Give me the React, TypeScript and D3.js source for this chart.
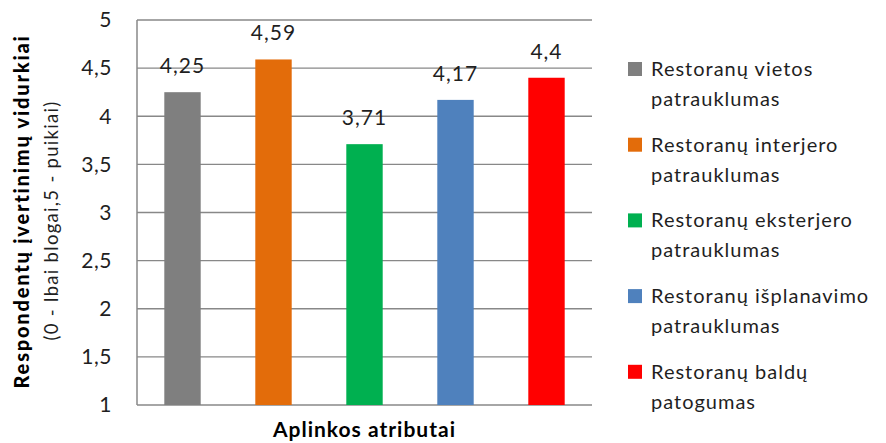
import React from "react";
import * as d3 from "d3";

const categories = ["vietos", "interjero", "eksterjero", "isplanavimo", "baldu"];
const values = [4.25, 4.59, 3.71, 4.17, 4.4];
const valueLabels = ["4,25", "4,59", "3,71", "4,17", "4,4"];
const barColors = ["#7f7f7f", "#e36c0a", "#00b050", "#4f81bd", "#ff0000"];
const legendLines = [
  ["Restoranų vietos", "patrauklumas"],
  ["Restoranų interjero", "patrauklumas"],
  ["Restoranų eksterjero", "patrauklumas"],
  ["Restoranų išplanavimo", "patrauklumas"],
  ["Restoranų baldų", "patogumas"],
];
const yTicks = [1, 1.5, 2, 2.5, 3, 3.5, 4, 4.5, 5];

const FONT = "Lato, 'Open Sans', sans-serif";
const TEXT = "#1f1f1f";

export default function App() {
  const width = 886;
  const height = 443;
  const margin = { top: 20, right: 294, bottom: 38, left: 137 };
  const plotRight = width - margin.right;
  const plotBottom = height - margin.bottom;

  const x = d3
    .scaleBand<string>()
    .domain(categories)
    .range([margin.left, plotRight])
    .paddingInner(0.6)
    .paddingOuter(0.3);

  const y = d3.scaleLinear().domain([1, 5]).range([plotBottom, margin.top]);

  const fmt = (v: number) => String(v).replace(".", ",");
  const midY = (margin.top + plotBottom) / 2;

  return (
    <svg
      width={width}
      height={height}
      style={{ position: "absolute", left: 0, top: 0, background: "#fff" }}
      fontFamily={FONT}
    >
      {/* gridlines */}
      {yTicks.map((t) => (
        <line
          key={t}
          x1={margin.left}
          x2={plotRight}
          y1={y(t)}
          y2={y(t)}
          stroke="#888"
          strokeWidth={1.3}
        />
      ))}
      {/* y axis line */}
      <line
        x1={margin.left}
        x2={margin.left}
        y1={margin.top}
        y2={plotBottom}
        stroke="#888"
        strokeWidth={1.5}
      />
      {yTicks.map((t) => (
        <text
          key={"l" + t}
          x={margin.left - 25}
          y={y(t)}
          dy="0.35em"
          textAnchor="end"
          fontSize={21}
          letterSpacing={0.5}
          fill={TEXT}
        >
          {fmt(t)}
        </text>
      ))}

      {/* bars */}
      {categories.map((c, i) => (
        <g key={c}>
          <rect
            x={x(c)}
            y={y(values[i])}
            width={x.bandwidth()}
            height={plotBottom - y(values[i])}
            fill={barColors[i]}
          />
          <text
            x={(x(c) as number) + x.bandwidth() / 2}
            y={y(values[i]) - 19}
            textAnchor="middle"
            fontSize={21}
            letterSpacing={1}
            fill={TEXT}
          >
            {valueLabels[i]}
          </text>
        </g>
      ))}

      {/* axis titles */}
      <text
        transform={`translate(29,${midY - 1}) rotate(-90)`}
        textAnchor="middle"
        fontSize={20}
        fontWeight="900"
        letterSpacing={1.8}
        fill="#000"
      >
        Respondentų įvertinimų vidurkiai
      </text>
      <text
        transform={`translate(58,${midY + 8}) rotate(-90)`}
        textAnchor="middle"
        fontSize={18.5}
        letterSpacing={1.3}
        fill={TEXT}
      >
        (0 - lbai blogai,5 - puikiai)
      </text>
      <text
        x={(margin.left + plotRight) / 2}
        y={437}
        textAnchor="middle"
        fontSize={21}
        fontWeight="bold"
        letterSpacing={1}
        fill="#000"
      >
        Aplinkos atributai
      </text>

      {/* legend */}
      {legendLines.map((lines, i) => {
        const top = 62 + i * 75.7;
        return (
          <g key={"lg" + i}>
            <rect x={628} y={top} width={14} height={14} fill={barColors[i]} />
            <text x={651} y={top + 14} fontSize={20} letterSpacing={1} fill={TEXT}>
              {lines[0]}
            </text>
            <text x={651} y={top + 44} fontSize={20} letterSpacing={1} fill={TEXT}>
              {lines[1]}
            </text>
          </g>
        );
      })}
    </svg>
  );
}
